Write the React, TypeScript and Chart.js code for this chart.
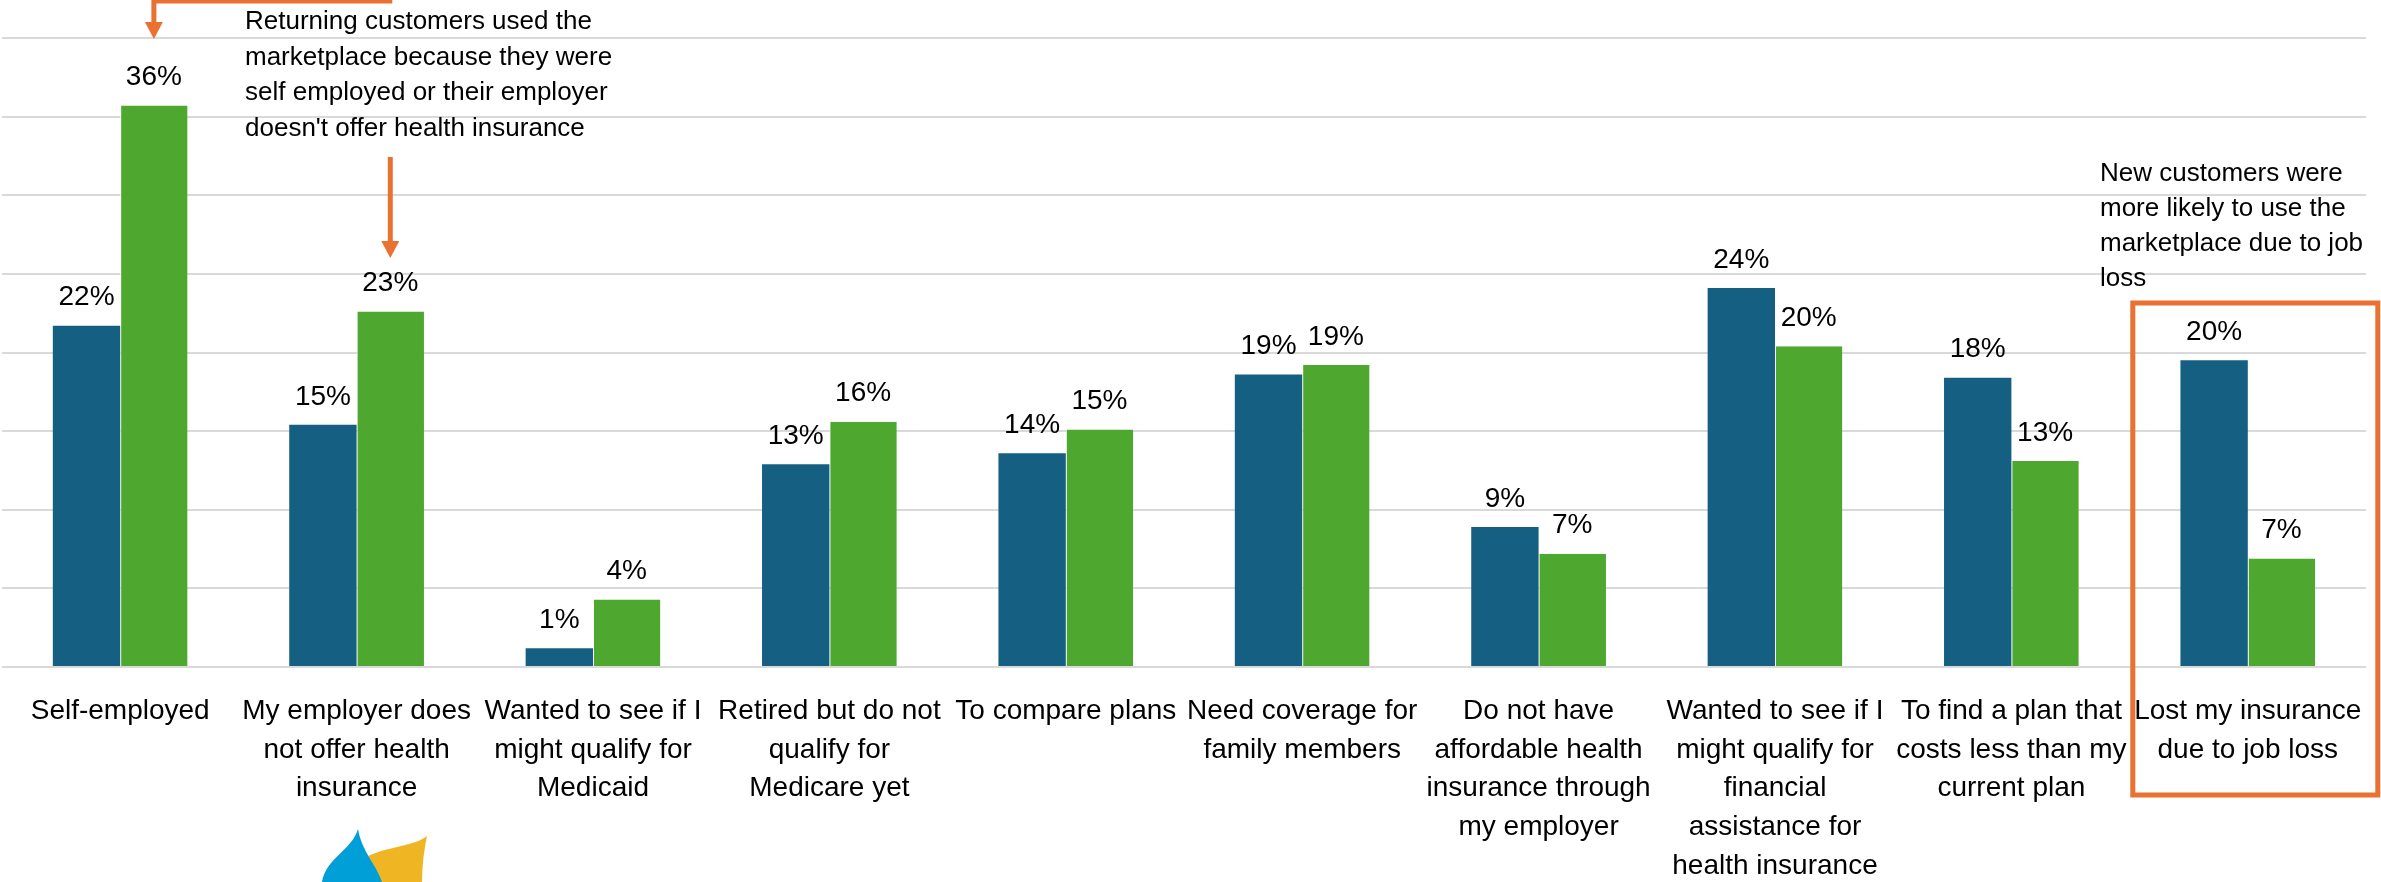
import React, { useEffect, useRef } from "react";
import { Chart, registerables } from "chart.js";

Chart.register(...registerables);

const categories: (string | string[])[] = [
  "Self-employed",
  ["My employer does", "not offer health", "insurance"],
  ["Wanted to see if I", "might qualify for", "Medicaid"],
  ["Retired but do not", "qualify for", "Medicare yet"],
  "To compare plans",
  ["Need coverage for", "family members"],
  ["Do not have", "affordable health", "insurance through", "my employer"],
  ["Wanted to see if I", "might qualify for", "financial", "assistance for", "health insurance"],
  ["To find a plan that", "costs less than my", "current plan"],
  ["Lost my insurance", "due to job loss"],
];

const newCustomers = [21.7, 15.4, 1.2, 12.9, 13.6, 18.6, 8.9, 24.1, 18.4, 19.5];
const returningCustomers = [35.7, 22.6, 4.3, 15.6, 15.1, 19.2, 7.2, 20.4, 13.1, 6.9];

const noteReturning = [
  "Returning customers used the",
  "marketplace because they were",
  "self employed or their employer",
  "doesn't offer health insurance",
];
const noteNew = [
  "New customers were",
  "more likely to use the",
  "marketplace due to job",
  "loss",
];

const FONT = "'Liberation Sans', Arial, sans-serif";
const BLUE = "#156082";
const GREEN = "#4EA72E";
const ORANGE = "#E97132";

function arrowDown(ctx: CanvasRenderingContext2D, x: number, y0: number, tip: number) {
  const headLen = 17;
  const headHalf = 9;
  ctx.beginPath();
  ctx.moveTo(x, y0);
  ctx.lineTo(x, tip - headLen + 2);
  ctx.stroke();
  ctx.beginPath();
  ctx.moveTo(x - headHalf, tip - headLen);
  ctx.lineTo(x + headHalf, tip - headLen);
  ctx.lineTo(x, tip);
  ctx.closePath();
  ctx.fill();
}

const overlayPlugin = {
  id: "overlay",
  afterDatasetsDraw(chart: any) {
    const ctx: CanvasRenderingContext2D = chart.ctx;
    ctx.save();
    ctx.font = `28px ${FONT}`;
    ctx.fillStyle = "#000";
    ctx.textAlign = "center";
    ctx.textBaseline = "middle";
    chart.data.datasets.forEach((ds: any, di: number) => {
      const meta = chart.getDatasetMeta(di);
      meta.data.forEach((bar: any, i: number) => {
        const v = ds.data[i] as number;
        ctx.fillText(`${Math.round(v)}%`, bar.x, bar.y - 28);
      });
    });
    ctx.restore();
  },
  afterDraw(chart: any) {
    const ctx: CanvasRenderingContext2D = chart.ctx;
    const green = chart.getDatasetMeta(1).data;
    const xScale = chart.scales.x;
    ctx.save();
    ctx.font = `26px ${FONT}`;
    ctx.fillStyle = "#000";
    ctx.textAlign = "left";
    ctx.textBaseline = "alphabetic";
    noteReturning.forEach((t, i) => ctx.fillText(t, 245, 29 + i * 35.5));
    noteNew.forEach((t, i) => ctx.fillText(t, 2100, 181 + i * 35));

    ctx.strokeStyle = ORANGE;
    ctx.fillStyle = ORANGE;
    ctx.lineWidth = 5;
    const x0 = green[0].x;
    const x1 = green[1].x;
    ctx.beginPath();
    ctx.moveTo(x1 + 2, 1);
    ctx.lineTo(x0, 1);
    ctx.stroke();
    arrowDown(ctx, x0, 0, 39);
    arrowDown(ctx, x1, 157, 258);

    const cx = xScale.getPixelForValue(9);
    ctx.lineWidth = 5;
    ctx.strokeRect(cx - 115, 303, 245, 492);

    ctx.fillStyle = "#F0B522";
    ctx.beginPath();
    ctx.moveTo(368, 856);
    ctx.bezierCurveTo(390, 846, 415, 846, 427, 836);
    ctx.bezierCurveTo(424, 850, 422, 866, 422, 882);
    ctx.lineTo(378, 882);
    ctx.closePath();
    ctx.fill();
    ctx.fillStyle = "#009FD8";
    ctx.beginPath();
    ctx.moveTo(358, 829);
    ctx.bezierCurveTo(352, 850, 326, 858, 322, 882);
    ctx.lineTo(382, 882);
    ctx.bezierCurveTo(376, 864, 362, 852, 358, 829);
    ctx.closePath();
    ctx.fill();
    ctx.restore();
  },
};

export default function App() {
  const ref = useRef<HTMLCanvasElement | null>(null);
  useEffect(() => {
    document.body.style.margin = "0";
    if (!ref.current) return;
    const chart = new Chart(ref.current, {
      type: "bar",
      data: {
        labels: categories as any,
        datasets: [
          {
            label: "New customers",
            data: newCustomers,
            backgroundColor: BLUE,
            categoryPercentage: 0.57,
            barPercentage: 1.0,
          },
          {
            label: "Returning customers",
            data: returningCustomers,
            backgroundColor: GREEN,
            borderColor: "#FFFFFF",
            borderWidth: { left: 1, right: 0, top: 0, bottom: 0 },
            borderSkipped: false,
            categoryPercentage: 0.57,
            barPercentage: 1.0,
          },
        ],
      },
      options: {
        animation: false,
        responsive: true,
        maintainAspectRatio: false,
        layout: { padding: { top: 38, left: 2, right: 15, bottom: 0 } },
        plugins: {
          legend: { display: false },
          title: { display: false },
          tooltip: { enabled: false },
        },
        scales: {
          x: {
            grid: { display: false, drawTicks: false },
            border: { display: false },
            ticks: {
              color: "#000",
              font: { family: FONT, size: 28, lineHeight: 38.7 / 28 },
              padding: 25,
              maxRotation: 0,
              autoSkip: false,
            },
            afterFit: (s: any) => {
              s.height = 215;
              s.paddingLeft = 0;
              s.paddingRight = 0;
            },
          },
          y: {
            min: 0,
            max: 40,
            ticks: { display: false, stepSize: 5 },
            grid: { color: "#D9D9D9", lineWidth: 2, drawTicks: false },
            border: { display: false },
            afterFit: (s: any) => {
              s.width = 0;
              s.paddingTop = 0;
              s.paddingBottom = 0;
            },
          },
        },
      },
      plugins: [overlayPlugin],
    });
    return () => chart.destroy();
  }, []);
  return (
    <div style={{ position: "absolute", left: 0, top: 0, width: 2381, height: 882, background: "#fff" }}>
      <canvas ref={ref} />
    </div>
  );
}
